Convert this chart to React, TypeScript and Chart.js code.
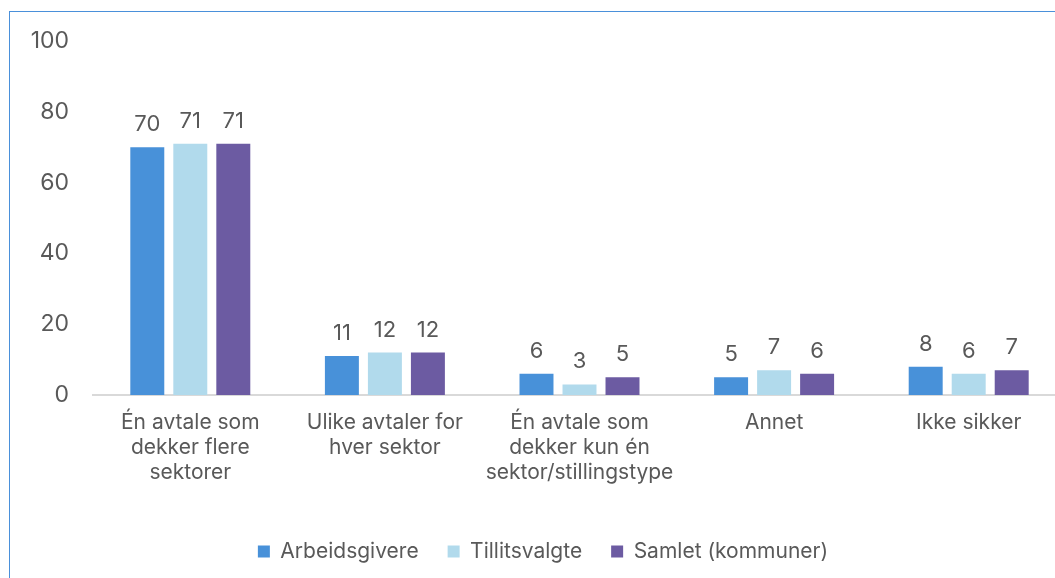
import React, { useEffect, useRef } from "react";
import { Chart, registerables } from "chart.js";

Chart.register(...registerables);

const categories: (string | string[])[] = [
  ["Én avtale som", "dekker flere", "sektorer"],
  ["Ulike avtaler for", "hver sektor"],
  ["Én avtale som", "dekker kun én", "sektor/stillingstype"],
  "Annet",
  "Ikke sikker",
];
const arbeidsgivere = [70, 11, 6, 5, 8];
const tillitsvalgte = [71, 12, 3, 7, 6];
const samlet = [71, 12, 5, 6, 7];
const seriesNames = ["Arbeidsgivere", "Tillitsvalgte", "Samlet (kommuner)"];
const yTicks = [0, 20, 40, 60, 80, 100];

const TEXT = "#595959";
const FONT = "Inter, 'Noto Sans', sans-serif";

const valueLabels = {
  id: "valueLabels",
  afterDatasetsDraw(chart: any) {
    const ctx = chart.ctx;
    ctx.save();
    ctx.fillStyle = TEXT;
    ctx.font = `22px ${FONT}`;
    ctx.textAlign = "center";
    ctx.textBaseline = "alphabetic";
    chart.data.datasets.forEach((ds: any, i: number) => {
      const meta = chart.getDatasetMeta(i);
      meta.data.forEach((el: any, j: number) => {
        ctx.fillText(String(ds.data[j]), el.x, el.y - 16);
      });
    });
    ctx.restore();
  },
};

export default function App() {
  const ref = useRef<HTMLCanvasElement>(null);
  useEffect(() => {
    if (!ref.current) return;
    const chart = new Chart(ref.current, {
      type: "bar",
      data: {
        labels: categories as any,
        datasets: [
          { label: seriesNames[0], data: arbeidsgivere, backgroundColor: "#4891D9" },
          { label: seriesNames[1], data: tillitsvalgte, backgroundColor: "#B1DAEC" },
          { label: seriesNames[2], data: samlet, backgroundColor: "#6C5BA2" },
        ],
      },
      options: {
        responsive: false,
        animation: false,
        layout: { padding: { left: 20, right: 20, top: 41, bottom: 6 } },
        datasets: {
          bar: { categoryPercentage: 0.663, barPercentage: 0.79 },
        },
        scales: {
          x: {
            grid: { display: false, drawTicks: false },
            border: { display: true, color: "#D9D9D9", width: 2 },
            ticks: {
              color: TEXT,
              font: { family: FONT, size: 21, lineHeight: 1.2 },
              padding: 15,
              maxRotation: 0,
              autoSkip: false,
            },
            afterFit(scale: any) {
              scale.height = 117;
            },
          },
          y: {
            min: 0,
            max: 100,
            afterBuildTicks(scale: any) {
              scale.ticks = yTicks.map((v) => ({ value: v }));
            },
            grid: { display: false, drawTicks: false },
            border: { display: false },
            ticks: {
              color: TEXT,
              font: { family: FONT, size: 23 },
              padding: 24,
            },
            afterFit(scale: any) {
              scale.width = 73;
            },
          },
        },
        plugins: {
          legend: {
            position: "bottom",
            labels: {
              color: TEXT,
              font: { family: FONT, size: 21 },
              boxWidth: 12,
              boxHeight: 12,
              padding: 29,
            },
          },
          tooltip: { enabled: false },
        },
      },
      plugins: [valueLabels],
    });
    return () => chart.destroy();
  }, []);

  return (
    <div
      style={{
        position: "fixed",
        left: 0,
        top: 0,
        width: 1055,
        height: 578,
        overflow: "hidden",
        background: "#fff",
      }}
    >
      <div
        style={{
          position: "absolute",
          left: 9,
          top: 11,
          width: 1200,
          height: 700,
          borderLeft: "1.5px solid #4A90DA",
          borderTop: "1.5px solid #4A90DA",
          boxSizing: "border-box",
        }}
      />
      <canvas
        ref={ref}
        width={1086}
        height={578}
        style={{ position: "absolute", left: 0, top: 0, width: 1086, height: 578 }}
      />
    </div>
  );
}
